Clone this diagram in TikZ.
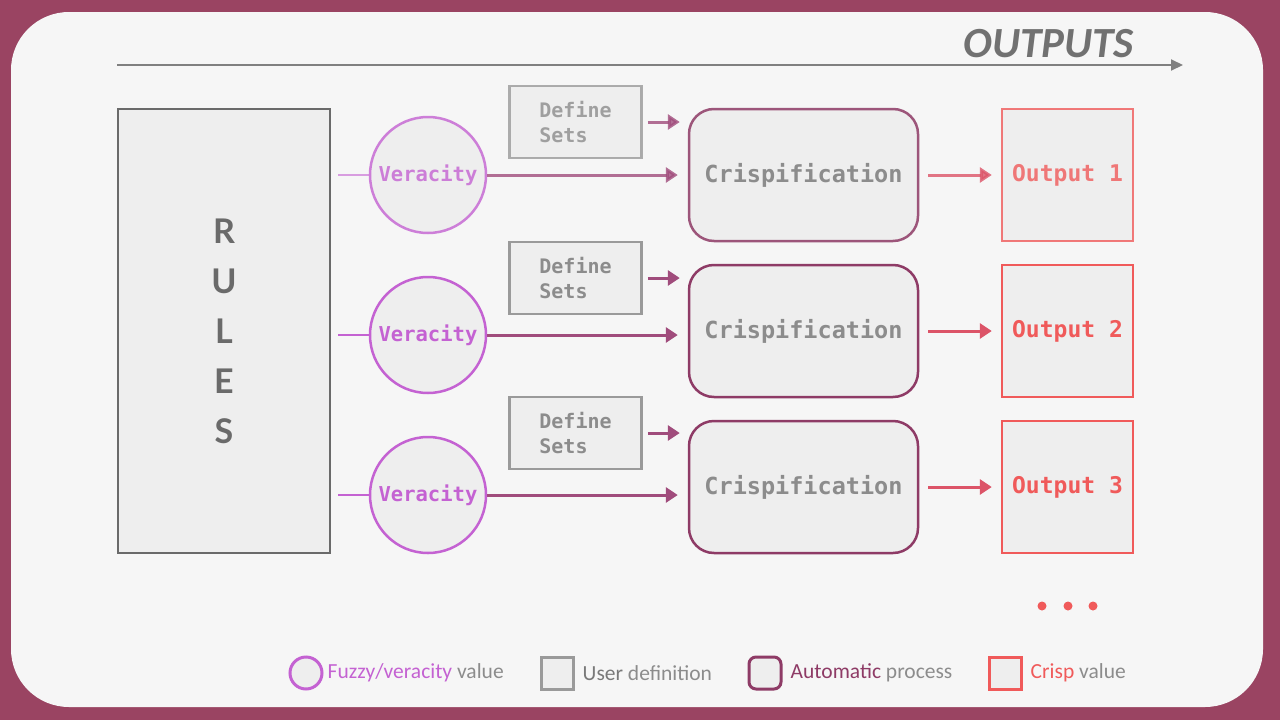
\documentclass[tikz,border=0pt]{standalone}
\usepackage{fontspec}
\setmainfont{Carlito}
\setsansfont{Lato}
\setmonofont{DejaVu Sans Mono}
\usepackage{tikz}
\usetikzlibrary{arrows.meta,positioning,calc}
\definecolor{cFrame}{HTML}{9A4462}
\definecolor{cPaper}{HTML}{F6F6F6}
\definecolor{cBox}{HTML}{EEEEEE}
\definecolor{cFuzzy}{HTML}{C462D2}
\definecolor{cAuto}{HTML}{8E3B66}
\definecolor{cCrisp}{HTML}{F05A5A}
\definecolor{cUser}{HTML}{9A9A9A}
\definecolor{cText}{HTML}{8C8C8C}
\definecolor{cDark}{HTML}{6A6A6A}
\definecolor{cLink}{HTML}{A04C7C}
\definecolor{cOut}{HTML}{DC5468}

\begin{document}
\begin{tikzpicture}[x=1pt,y=-1pt,
  rules/.style={
    draw=cDark, fill=cBox, line width=2.5pt,
    minimum width=212pt, minimum height=444pt, inner sep=0,
    text=cDark, align=center, font=\fontsize{34}{50}\selectfont\sffamily\bfseries
  },
  fuzzy/.style={
    circle, draw=cFuzzy, fill=cBox, line width=2.5pt,
    minimum size=116pt, inner sep=0,
    text=cFuzzy, font=\fontsize{20.5}{24}\selectfont\ttfamily\bfseries
  },
  userdef/.style={
    draw=cUser, fill=cBox, line width=2.5pt,
    minimum width=132pt, minimum height=72pt, inner sep=0,
    text=cText, align=left, font=\fontsize{20}{25}\selectfont\ttfamily\bfseries
  },
  auto/.style={
    draw=cAuto, fill=cBox, line width=2.5pt, rounded corners=25pt,
    minimum width=229pt, minimum height=132pt, inner sep=0,
    text=cText, font=\fontsize{23.5}{28}\selectfont\ttfamily\bfseries
  },
  crisp/.style={
    draw=cCrisp, fill=cBox, line width=2.5pt,
    minimum width=131pt, minimum height=132pt, inner sep=0,
    text=cCrisp, font=\fontsize{23}{28}\selectfont\ttfamily\bfseries
  },
  faded/.style={draw opacity=0.8, text opacity=0.8},
  feed/.style={line width=2.5pt, cFuzzy, shorten <=7pt},
  link/.style={-{Triangle[length=12pt,width=15pt]}, line width=3pt, cLink, shorten >=10pt},
  setlink/.style={-{Triangle[length=12pt,width=15pt]}, line width=3pt, cLink, shorten <=5pt, shorten >=8pt},
  outlink/.style={-{Triangle[length=12pt,width=15pt]}, line width=3pt, cOut, shorten <=9pt, shorten >=9pt},
  dot/.style={circle, fill=cCrisp, minimum size=9pt, inner sep=0},
  legtext/.style={inner sep=1pt, text=cText, font=\fontsize{21.5}{24}\selectfont},
]
\useasboundingbox (0,0) rectangle (1280,720);
% Frame
\fill[cFrame] (0,0) rectangle (1280,720);
\fill[cPaper,rounded corners=58pt] (11,12) rectangle (1263,707);

% Title arrow
\coordinate (flowA) at (117,65);
\coordinate (flowB) at (1183,65);
\draw[-{Triangle[length=12pt,width=11pt]},line width=2pt,cDark!85] (flowA) -- (flowB);
\node[anchor=base east,inner sep=0,text=cDark!95,
  font=\fontsize{43}{48}\selectfont\bfseries\itshape] (title) at (1134,57) {OUTPUTS};

% Rules
\node[rules] (R) at (224,331) {R\\U\\L\\E\\S};

% Veracity
\node[fuzzy,faded] (V1) at (428,175) {Veracity};
\node[fuzzy]       (V2) at (428,335) {Veracity};
\node[fuzzy]       (V3) at (428,495) {Veracity};

% Define sets
\node[userdef,faded] (D1) at (575.5,122) {Define\\Sets};
\node[userdef]       (D2) at (575.5,278) {Define\\Sets};
\node[userdef]       (D3) at (575.5,433) {Define\\Sets};

% Crispification
\node[auto,draw opacity=0.85] (C1) at (803.5,175) {Crispification};
\node[auto] (C2) at (803.5,331) {Crispification};
\node[auto] (C3) at (803.5,487) {Crispification};

% Outputs
\node[crisp,faded] (O1) at (1067.5,175) {Output 1};
\node[crisp]       (O2) at (1067.5,331) {Output 2};
\node[crisp]       (O3) at (1067.5,487) {Output 3};

% Feeds
\draw[feed,opacity=0.6] (R.east |- V1) -- (V1.west);
\draw[feed] (R.east |- V2) -- (V2.west);
\draw[feed] (R.east |- V3) -- (V3.west);

% Arrows
\draw[link,opacity=0.8] (V1.east) -- (V1.east -| C1.west);
\draw[link] (V2.east) -- (V2.east -| C2.west);
\draw[link] (V3.east) -- (V3.east -| C3.west);
\draw[setlink,opacity=0.8] (D1.east) -- (D1.east -| C1.west);
\draw[setlink] (D2.east) -- (D2.east -| C2.west);
\draw[setlink] (D3.east) -- (D3.east -| C3.west);
\draw[outlink,opacity=0.8] (C1.east) -- (O1.west);
\draw[outlink] (C2.east) -- (O2.west);
\draw[outlink] (C3.east) -- (O3.west);

% More
\node[dot] (dot1) at (1042,606) {};
\node[dot] (dot2) at (1068,606) {};
\node[dot] (dot3) at (1093,606) {};

% Legend
\node[circle,draw=cFuzzy,fill=cBox,line width=3pt,minimum size=32pt,inner sep=0] (kFuzzy) at (306,673) {};
\node[legtext,right=3pt of kFuzzy] (tFuzzy) {\textcolor{cFuzzy}{Fuzzy/veracity} value};
\node[draw=cUser,fill=cBox,line width=3pt,minimum size=32pt,inner sep=0] (kUser) at (557,673) {};
\node[legtext,right=7pt of kUser] (tUser) {\textcolor{cDark!90}{User} definition};
\node[draw=cAuto,fill=cBox,line width=3pt,rounded corners=7pt,minimum size=32pt,inner sep=0] (kAuto) at (765,673) {};
\node[legtext,right=7pt of kAuto] (tAuto) {\textcolor{cAuto}{Automatic} process};
\node[draw=cCrisp,fill=cBox,line width=3pt,minimum size=32pt,inner sep=0] (kCrisp) at (1005,673) {};
\node[legtext,right=7pt of kCrisp] (tCrisp) {\textcolor{cCrisp}{Crisp} value};
\end{tikzpicture}
\end{document}
